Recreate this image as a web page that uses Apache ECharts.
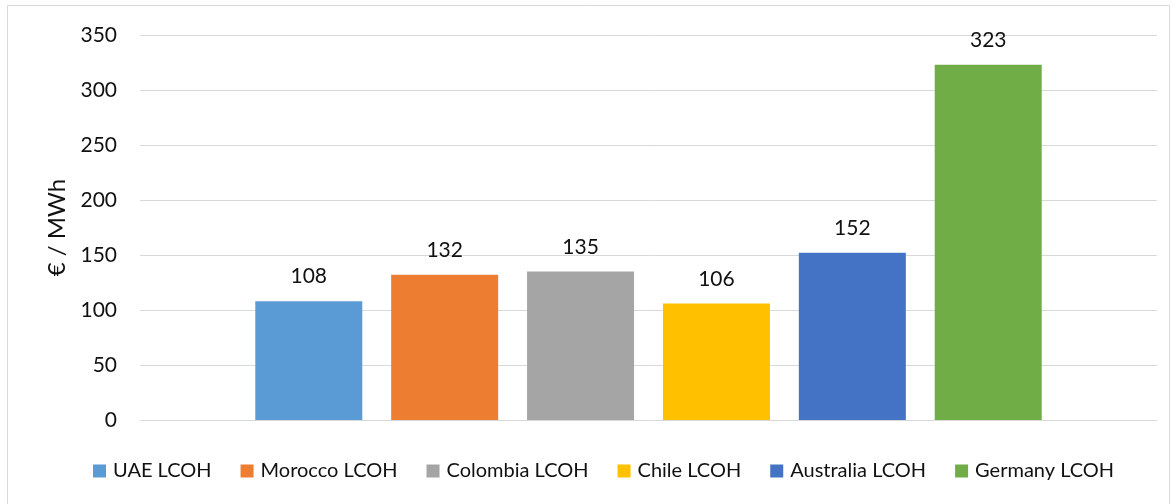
<!DOCTYPE html>
<html>
<head>
<meta charset="utf-8">
<script src="https://cdn.jsdelivr.net/npm/echarts@6/dist/echarts.min.js"></script>
<style>
  html, body { margin: 0; padding: 0; background: #fff; }
  #chart { width: 1176px; height: 504px; }
</style>
</head>
<body>
<div id="chart"></div>
<script>
// Levelized cost of hydrogen by country, €/MWh
const seriesNames = ['UAE LCOH', 'Morocco LCOH', 'Colombia LCOH', 'Chile LCOH', 'Australia LCOH', 'Germany LCOH'];
const seriesValues = [108, 132, 135, 106, 152, 323];
const seriesColors = ['#5B9BD5', '#ED7D31', '#A5A5A5', '#FFC000', '#4472C4', '#70AD47'];
const categories = [''];
const yTicks = { min: 0, max: 350, interval: 50 };
const yTitle = '€ / MWh';

const font = 'Lato, "Open Sans", "Liberation Sans", sans-serif';
const textColor = '#111111';

const chart = echarts.init(document.getElementById('chart'), null, { renderer: 'canvas' });

const series = seriesNames.map((name, i) => ({
  name: name,
  type: 'bar',
  data: [seriesValues[i]],
  barWidth: 107,
  barGap: '27%',
  itemStyle: { color: seriesColors[i] },
  label: {
    show: true,
    position: 'top',
    distance: 14,
    color: textColor,
    fontSize: 21,
    fontFamily: font
  }
}));

chart.setOption({
  animation: false,
  backgroundColor: '#ffffff',
  graphic: [{
    type: 'rect',
    shape: { x: 7.5, y: 5.5, width: 1162, height: 520 },
    style: { fill: 'none', stroke: '#d9d9d9', lineWidth: 1 },
    silent: true
  }],
  grid: { left: 140, right: 19, top: 35, bottom: 84, containLabel: false },
  legend: {
    bottom: 18,
    left: 88,
    itemWidth: 13,
    itemHeight: 13,
    itemGap: 29,
    icon: 'rect',
    textStyle: { fontSize: 20, color: textColor, fontFamily: font, padding: [0, 0, 0, 2] },
    data: seriesNames
  },
  xAxis: {
    type: 'category',
    data: categories,
    axisLine: { show: true, lineStyle: { color: '#d9d9d9', width: 1 } },
    axisTick: { show: false },
    axisLabel: { show: false }
  },
  yAxis: {
    type: 'value',
    min: yTicks.min,
    max: yTicks.max,
    interval: yTicks.interval,
    name: yTitle,
    nameLocation: 'middle',
    nameGap: 68,
    nameRotate: 90,
    nameTextStyle: { fontSize: 24, color: textColor, fontFamily: font },
    axisLine: { show: false },
    axisTick: { show: false },
    axisLabel: { fontSize: 21, color: textColor, margin: 23, fontFamily: font },
    splitLine: { lineStyle: { color: '#d9d9d9', width: 1 } }
  },
  series: series
});
</script>
</body>
</html>
